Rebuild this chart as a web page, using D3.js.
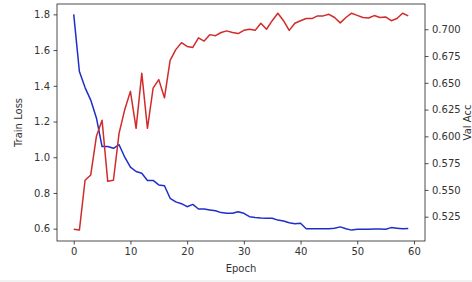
<!DOCTYPE html>
<html lang="en">
<head>
    <meta charset="UTF-8">
    <title>Train Loss / Val Acc</title>
    <style>
        body { margin: 0; background: #fff; }
        svg { display: block; font-family: "DejaVu Sans", sans-serif; }
    </style>
    <script src="https://cdn.jsdelivr.net/npm/d3@7"></script>
</head>
<body>
<script>
    // values, one per epoch
    var epochs = d3.range(0, 60);
    var trainLoss = [1.80, 1.48, 1.39, 1.32, 1.22, 1.06, 1.06, 1.05, 1.07, 1.00,
                     0.945, 0.92, 0.91, 0.87, 0.87, 0.845, 0.84, 0.77, 0.75, 0.74,
                     0.723, 0.736, 0.71, 0.71, 0.705, 0.70, 0.69, 0.686, 0.686, 0.695,
                     0.686, 0.667, 0.663, 0.66, 0.658, 0.658, 0.648, 0.643, 0.633, 0.628,
                     0.63, 0.60, 0.60, 0.60, 0.60, 0.60, 0.602, 0.61, 0.60, 0.592,
                     0.597, 0.597, 0.597, 0.598, 0.598, 0.597, 0.606, 0.603, 0.600, 0.601];
    var valAcc = [0.5132, 0.5125, 0.559, 0.564, 0.600, 0.615, 0.558, 0.559, 0.603, 0.625,
                  0.642, 0.6075, 0.659, 0.6075, 0.645, 0.653, 0.636, 0.671, 0.681, 0.6875,
                  0.684, 0.683, 0.692, 0.689, 0.695, 0.694, 0.697, 0.6985, 0.697, 0.696,
                  0.699, 0.700, 0.699, 0.7056, 0.700, 0.708, 0.715, 0.708, 0.699, 0.7056,
                  0.708, 0.710, 0.710, 0.7125, 0.7125, 0.714, 0.711, 0.706, 0.711, 0.715,
                  0.713, 0.711, 0.7105, 0.7128, 0.711, 0.7115, 0.708, 0.710, 0.715, 0.7125];
    var xTicks = [0, 10, 20, 30, 40, 50, 60];
    var lossTicks = [0.6, 0.8, 1.0, 1.2, 1.4, 1.6, 1.8];
    var accTicks = [0.525, 0.550, 0.575, 0.600, 0.625, 0.650, 0.675, 0.700];

    var W = 472, H = 282;
    var plot = {left: 57, right: 425, top: 4, bottom: 241};

    var svg = d3.select("body").append("svg")
        .attr("width", W)
        .attr("height", H);

    var x = d3.scaleLinear().domain([-2.95, 61.95]).range([plot.left, plot.right]);
    var yLoss = d3.scaleLinear().domain([0.531, 1.858]).range([plot.bottom, plot.top]);
    var yAcc = d3.scaleLinear().domain([0.5023, 0.7236]).range([plot.bottom, plot.top]);

    // lines
    var lossLine = d3.line().x((d, i) => x(epochs[i])).y(d => yLoss(d));
    var accLine = d3.line().x((d, i) => x(epochs[i])).y(d => yAcc(d));

    svg.append("path")
        .datum(trainLoss)
        .attr("d", lossLine)
        .attr("fill", "none")
        .attr("stroke", "#1f2ec9")
        .attr("stroke-width", 1.5)
        .attr("stroke-linejoin", "round");

    svg.append("path")
        .datum(valAcc)
        .attr("d", accLine)
        .attr("fill", "none")
        .attr("stroke", "#d12b2b")
        .attr("stroke-width", 1.5)
        .attr("stroke-linejoin", "round");

    // axes
    function styleAxis(g) {
        g.select(".domain").remove();
        g.selectAll(".tick line").attr("stroke", "#222").attr("stroke-width", 0.8);
        g.selectAll(".tick text").attr("fill", "#333").style("font-size", "10px")
            .style("font-family", "DejaVu Sans, sans-serif");
    }

    svg.append("g")
        .attr("transform", "translate(0," + plot.bottom + ")")
        .call(d3.axisBottom(x).tickValues(xTicks).tickFormat(d3.format("d")).tickSize(3.5).tickPadding(3.5))
        .call(styleAxis);

    svg.append("g")
        .attr("transform", "translate(" + plot.left + ",0)")
        .call(d3.axisLeft(yLoss).tickValues(lossTicks).tickFormat(d3.format(".1f")).tickSize(3.5).tickPadding(3.5))
        .call(styleAxis);

    svg.append("g")
        .attr("transform", "translate(" + plot.right + ",0)")
        .call(d3.axisRight(yAcc).tickValues(accTicks).tickFormat(d3.format(".3f")).tickSize(3.5).tickPadding(3.5))
        .call(styleAxis);

    // frame
    svg.append("rect")
        .attr("x", plot.left)
        .attr("y", plot.top)
        .attr("width", plot.right - plot.left)
        .attr("height", plot.bottom - plot.top)
        .attr("fill", "none")
        .attr("stroke", "#222")
        .attr("stroke-width", 0.8);

    // labels
    svg.append("text")
        .attr("transform", "translate(22," + (plot.top + plot.bottom) / 2 + ") rotate(-90)")
        .attr("text-anchor", "middle")
        .attr("fill", "#333")
        .style("font-size", "10px")
        .text("Train Loss");

    svg.append("text")
        .attr("transform", "translate(471," + (plot.top + plot.bottom) / 2 + ") rotate(-90)")
        .attr("text-anchor", "middle")
        .attr("fill", "#333")
        .style("font-size", "10px")
        .text("Val Acc");

    svg.append("text")
        .attr("x", (plot.left + plot.right) / 2)
        .attr("y", 272)
        .attr("text-anchor", "middle")
        .attr("fill", "#333")
        .style("font-size", "10px")
        .text("Epoch");

    // faint edge at the bottom of the capture
    svg.append("line")
        .attr("x1", 0).attr("x2", W)
        .attr("y1", 281).attr("y2", 281)
        .attr("stroke", "#e4e4e4");
</script>
</body>
</html>
